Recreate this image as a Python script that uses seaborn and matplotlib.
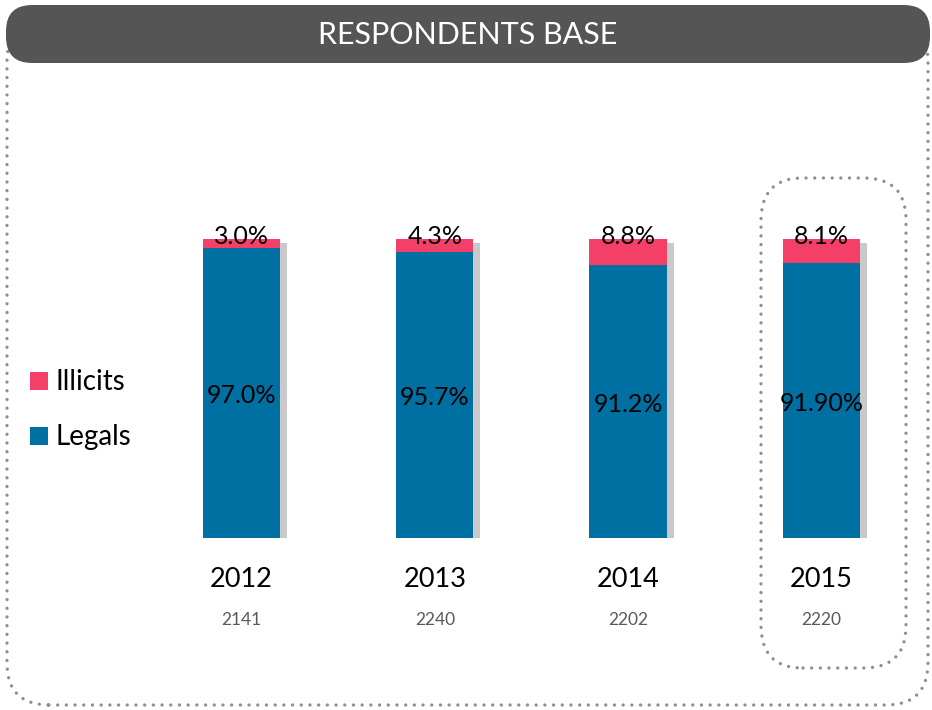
import matplotlib
matplotlib.use("Agg")
import matplotlib.pyplot as plt
import matplotlib.patheffects as pe
from matplotlib.patches import FancyBboxPatch
import seaborn as sns
import pandas as pd

years = ["2012", "2013", "2014", "2015"]
respondents = ["2141", "2240", "2202", "2220"]
legals = [97.0, 95.7, 91.2, 91.9]
illicits = [3.0, 4.3, 8.8, 8.1]
legal_labels = ["97.0%", "95.7%", "91.2%", "91.90%"]
illicit_labels = ["3.0%", "4.3%", "8.8%", "8.1%"]
title = "RESPONDENTS BASE"

BLUE = "#0070A2"
PINK = "#F43F69"

sns.set_theme(style="white")
plt.rcParams['font.family'] = ['Lato', 'DejaVu Sans']

W, H = 932, 710
fig = plt.figure(figsize=(W / 100, H / 100), dpi=100)
fig.patch.set_facecolor("white")

def fx(px):
    return px / W

def fy(py):
    return 1 - py / H

DOT = (0, (0.01, 2.6))

# outer dotted frame
outer = FancyBboxPatch((fx(7), fy(705)), fx(921), (698 - 12) / H,
                       boxstyle="round,pad=0,rounding_size=0.045",
                       transform=fig.transFigure, fill=False,
                       edgecolor="#8f8f8f", linewidth=2.4, linestyle=DOT,
                       capstyle="round", mutation_aspect=W / H)
fig.add_artist(outer)

# title bar
bar = FancyBboxPatch((fx(6), fy(63)), fx(924), 58 / H,
                     boxstyle="round,pad=0,rounding_size=0.028",
                     transform=fig.transFigure, facecolor="#555555",
                     edgecolor="none", mutation_aspect=W / H)
fig.add_artist(bar)
fig.text(fx(468), fy(35), title, color="white", fontsize=22,
         ha="center", va="center")

# highlight box around 2015
hl = FancyBboxPatch((fx(761), fy(668)), fx(145), 490 / H,
                    boxstyle="round,pad=0,rounding_size=0.045",
                    transform=fig.transFigure, fill=False,
                    edgecolor="#8f8f8f", linewidth=2.4, linestyle=DOT,
                    capstyle="round", mutation_aspect=W / H)
fig.add_artist(hl)

# axes
left = (241.5 - 96.67) / W
width = (4 * 193.33) / W
bottom = (H - 538) / H
height = (538 - 239) / H
ax = fig.add_axes([left, bottom, width, height])
ax.set_facecolor("none")

df = pd.DataFrame({"year": years, "legals": legals, "illicits": illicits})
df["total"] = df["legals"] + df["illicits"]

sns.barplot(data=df, x="year", y="total", color=PINK, width=0.4,
            saturation=1, ax=ax, zorder=2, linewidth=0)
for p in ax.patches:
    p.set_path_effects([pe.SimplePatchShadow(offset=(5, -3), shadow_rgbFace="#666666", alpha=0.35),
                        pe.Normal()])
sns.barplot(data=df, x="year", y="legals", color=BLUE, width=0.4,
            saturation=1, ax=ax, zorder=3, linewidth=0)

ax.set_xlim(-0.5, 3.5)
ax.set_ylim(0, 100)
ax.set_xlabel("")
ax.set_ylabel("")
ax.set_yticks([])
ax.set_xticks([])
for s in ax.spines.values():
    s.set_visible(False)

for i in range(len(years)):
    tot = legals[i] + illicits[i]
    ax.text(i, tot + 0.8, illicit_labels[i], ha="center", va="center",
            fontsize=18, color="black", zorder=5)
    ax.text(i, legals[i] / 2 - 1, legal_labels[i], ha="center", va="center",
            fontsize=18, color="black", zorder=5)
    ax.text(i, -14, years[i], ha="center", va="center", fontsize=19.5,
            color="black", clip_on=False)
    ax.text(i, -27.5, respondents[i], ha="center", va="center", fontsize=12.5,
            color="#595959", clip_on=False)

# legend
for lbl, col, yc in [("Illicits", PINK, 381), ("Legals", BLUE, 436)]:
    fig.patches.append(plt.Rectangle((fx(30), fy(yc + 9)), fx(18), 18 / H,
                                     transform=fig.transFigure, facecolor=col,
                                     edgecolor="none", figure=fig))
    fig.text(fx(55), fy(yc + 1), lbl, fontsize=20, color="black", ha="left", va="center")

fig.savefig("out.png", dpi=100)
